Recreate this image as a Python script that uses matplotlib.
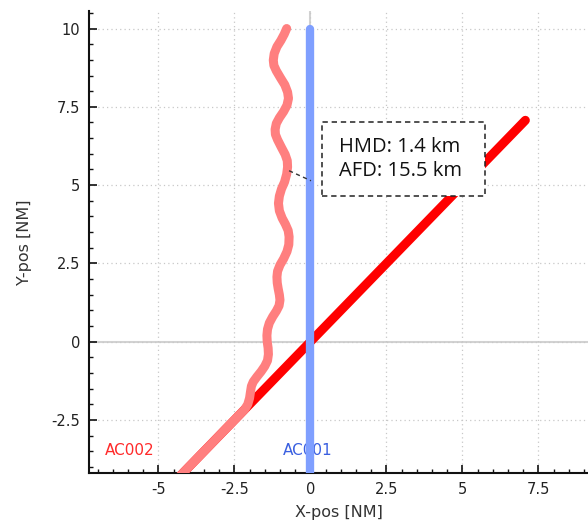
import matplotlib
matplotlib.use("Agg")
import matplotlib.pyplot as plt
from matplotlib.patches import Rectangle
from matplotlib.ticker import MultipleLocator

plt.rcParams['axes.unicode_minus'] = False
plt.rcParams['font.family'] = ['DejaVu Sans']

# ---- data ----
ac001_x = [0.0, 0.0]
ac001_y = [-4.6, 10.0]

ac002_planned_x = [-4.6, 7.07]
ac002_planned_y = [-4.6, 7.07]

ac002_x = [-4.6, -2.3, -2.16, -2.06, -2.0, -1.97, -1.94, -1.88, -1.76, -1.62, -1.5,
           -1.41, -1.38, -1.39, -1.42, -1.43, -1.41, -1.35, -1.24, -1.12, -1.03,
           -1.0, -1.02, -1.06, -1.09, -1.10, -1.08, -1.0, -0.88, -0.77, -0.71,
           -0.70, -0.73, -0.82, -0.93, -1.02, -1.05, -1.02, -0.95, -0.85, -0.78,
           -0.75, -0.76, -0.83, -0.95, -1.08, -1.15, -1.16, -1.12, -1.02, -0.88,
           -0.77, -0.72, -0.75, -0.84, -0.98, -1.12, -1.20, -1.22, -1.19, -1.1,
           -0.97, -0.86, -0.78]
ac002_y = [-4.6, -2.3, -2.16, -2.0, -1.8, -1.6, -1.42, -1.28, -1.12, -0.95, -0.78,
           -0.6, -0.4, -0.2, 0.0, 0.2, 0.4, 0.6, 0.8, 0.98, 1.15,
           1.33, 1.5, 1.7, 1.88, 2.07, 2.25, 2.45, 2.65, 2.88, 3.1,
           3.35, 3.55, 3.75, 3.95, 4.18, 4.42, 4.65, 4.88, 5.1, 5.35,
           5.58, 5.78, 5.98, 6.2, 6.45, 6.62, 6.78, 6.97, 7.15, 7.35,
           7.55, 7.77, 7.97, 8.2, 8.42, 8.65, 8.82, 8.99, 9.2, 9.42,
           9.62, 9.82, 10.0]

hmd_link_x = [-0.70, 0.02]
hmd_link_y = [5.46, 5.14]

info_lines = ["HMD: 1.4 km", "AFD: 15.5 km"]
x_ticks = [-5, -2.5, 0, 2.5, 5, 7.5]
y_ticks = [-2.5, 0, 2.5, 5, 7.5, 10]
x_ticklabels = ["-5", "-2.5", "0", "2.5", "5", "7.5"]
y_ticklabels = ["-2.5", "0", "2.5", "5", "7.5", "10"]

# ---- figure ----
fig = plt.figure(figsize=(5.88, 5.26), dpi=100)
ax = fig.add_axes([0.1514, 0.1008, 0.8486, 0.8783])
ax.set_xlim(-7.28, 9.13)
ax.set_ylim(-4.19, 10.56)

for s in ['top', 'right']:
    ax.spines[s].set_visible(False)
for s in ['left', 'bottom']:
    ax.spines[s].set_linewidth(1.5)
    ax.spines[s].set_color('#111111')

ax.set_xticks(x_ticks)
ax.set_xticklabels(x_ticklabels)
ax.set_yticks(y_ticks)
ax.set_yticklabels(y_ticklabels)
ax.xaxis.set_minor_locator(MultipleLocator(0.5))
ax.yaxis.set_minor_locator(MultipleLocator(0.5))
ax.tick_params(which='major', direction='in', length=5.5, width=1.2, color='#111111',
               labelsize=10.5, labelcolor='#222222', pad=6.5)
ax.tick_params(which='minor', direction='in', length=2.8, width=1.0, color='#111111')

ax.grid(True, which='major', color='#c8c8c8', linestyle=(0, (1, 2.5)), linewidth=0.9)
ax.axhline(0, color='#d2d2d2', linewidth=1.5, zorder=1)
ax.axvline(0, color='#d2d2d2', linewidth=1.5, zorder=1)

ax.set_xlabel("X-pos [NM]", fontsize=11.5, color='#333333', labelpad=6)
ax.set_ylabel("Y-pos [NM]", fontsize=11.5, color='#333333', labelpad=14)

ax.text(-6.75, -3.46, "AC002", color='#ff2a2a', fontsize=11, va='center', ha='left', zorder=2)
ax.text(-0.90, -3.46, "AC001", color='#3a5fe0', fontsize=11, va='center', ha='left', zorder=2)

ax.plot(ac002_planned_x, ac002_planned_y, color='#ff0000', linewidth=6.5,
        solid_capstyle='round', zorder=3)
ax.plot(ac002_x, ac002_y, color='#ff7f7f', linewidth=6.5,
        solid_capstyle='round', solid_joinstyle='round', zorder=4)
ax.plot(ac001_x, ac001_y, color='#7f9fff', linewidth=6,
        solid_capstyle='round', zorder=5)
ax.plot(hmd_link_x, hmd_link_y, color='#333333', linewidth=1.0,
        linestyle=(0, (3, 2.5)), zorder=6)

box = Rectangle((0.385, 4.65), 5.74 - 0.385, 7.01 - 4.65, facecolor='white',
                edgecolor='#222222', linewidth=1.1, linestyle=(0, (3.5, 2.5)), zorder=7)
ax.add_patch(box)
ax.text(0.94, (7.01 + 4.65) / 2, "\n".join(info_lines), fontsize=14.5,
        family=['Open Sans', 'DejaVu Sans'], color='#111111',
        ha='left', va='center', linespacing=1.25, zorder=8)

fig.savefig("out.png", dpi=100)
